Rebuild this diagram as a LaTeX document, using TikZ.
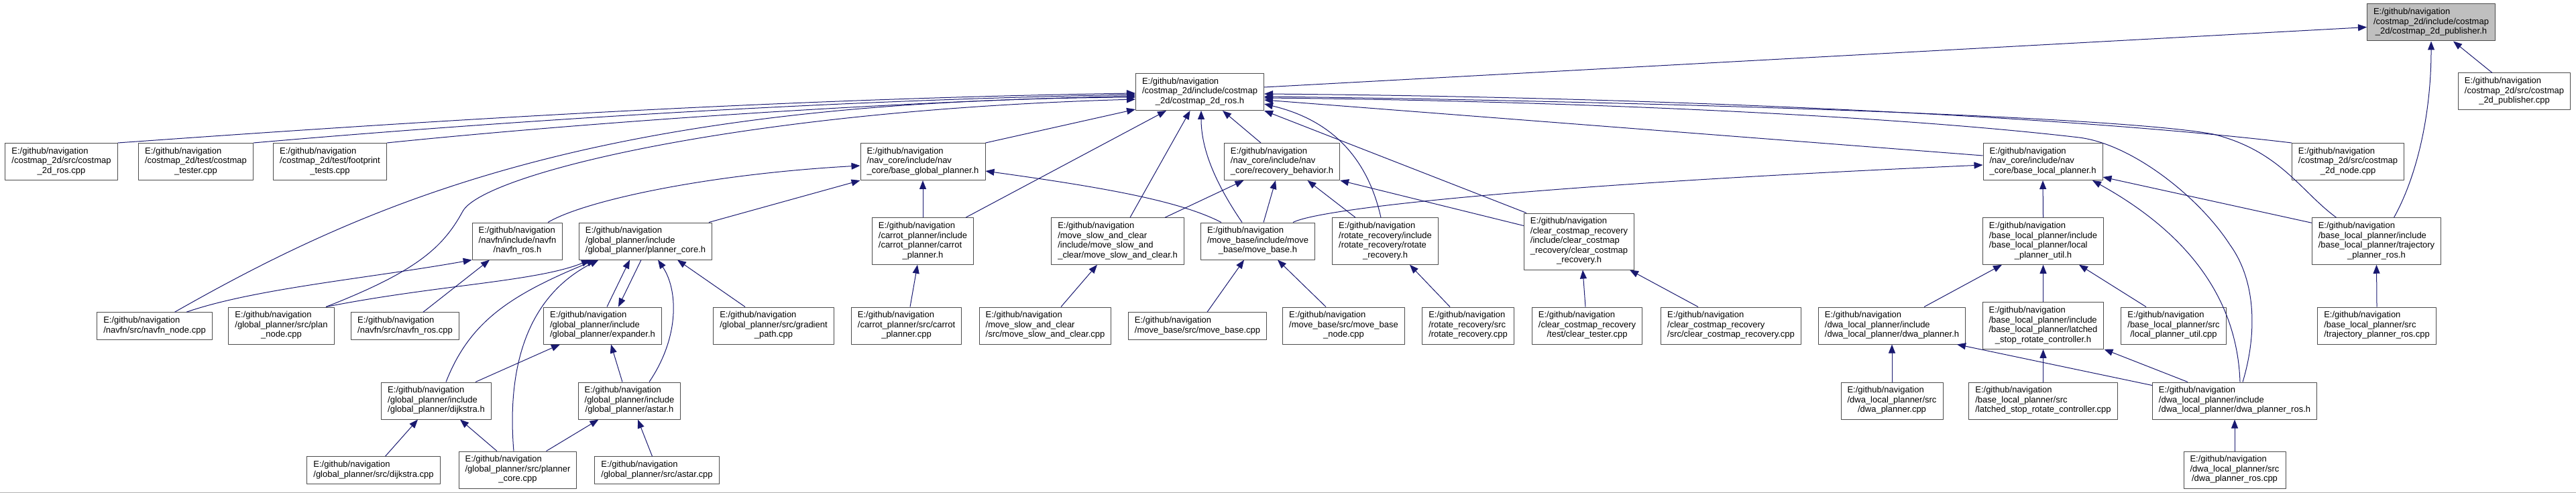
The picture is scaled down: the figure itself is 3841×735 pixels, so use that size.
\documentclass[tikz,border=0pt]{standalone}
\usepackage{fontspec}
\setmainfont{Liberation Sans}
\usetikzlibrary{arrows.meta}
\definecolor{edgeblue}{HTML}{191970}
\definecolor{maingray}{HTML}{BFBFBF}
% file label: all lines left, last line centred
\newcommand{\flab}[2]{\begin{tabular}{@{}l@{}}#1\\\multicolumn{1}{@{}c@{}}{#2}\end{tabular}}

\begin{document}
\begin{tikzpicture}[x=1pt, y=-1pt, line join=round,
  file/.style={draw=black!70, line width=1pt, fill=white, inner xsep=9.5pt, inner ysep=5.75pt, font=\fontsize{13}{14.5}\selectfont},
  incl/.style={draw=edgeblue, line width=1pt, -{Triangle[length=13pt, width=10pt]}}]
	\useasboundingbox (0,0) rectangle (3841,735);

	% Top files
	\node[file, fill=maingray] (pub) at (3625,33.5) {\flab{E:/github/navigation\\/costmap\_2d/include/costmap}{\_2d/costmap\_2d\_publisher.h}};
	\node[file] (pubsrc) at (3749,136.5) {\flab{E:/github/navigation\\/costmap\_2d/src/costmap}{\_2d\_publisher.cpp}};
	\node[file] (ros) at (1789,137) {\flab{E:/github/navigation\\/costmap\_2d/include/costmap}{\_2d/costmap\_2d\_ros.h}};

	% Row 2
	\node[file] (rossrc) at (91.5,241) {\flab{E:/github/navigation\\/costmap\_2d/src/costmap}{\_2d\_ros.cpp}};
	\node[file] (tester) at (292,241) {\flab{E:/github/navigation\\/costmap\_2d/test/costmap}{\_tester.cpp}};
	\node[file] (footprint) at (492,241) {\flab{E:/github/navigation\\/costmap\_2d/test/footprint}{\_tests.cpp}};
	\node[file] (bgp) at (1376,241) {\flab{E:/github/navigation\\/nav\_core/include/nav}{\_core/base\_global\_planner.h}};
	\node[file] (rb) at (1911.5,241) {\flab{E:/github/navigation\\/nav\_core/include/nav}{\_core/recovery\_behavior.h}};
	\node[file] (blp) at (3046,241) {\flab{E:/github/navigation\\/nav\_core/include/nav}{\_core/base\_local\_planner.h}};
	\node[file] (cmnode) at (3501,241) {\flab{E:/github/navigation\\/costmap\_2d/src/costmap}{\_2d\_node.cpp}};

	% Row 3
	\node[file] (navfnh) at (771.5,359.5) {\flab{E:/github/navigation\\/navfn/include/navfn}{/navfn\_ros.h}};
	\node[file] (pcore) at (962.5,359.5) {\flab{E:/github/navigation\\/global\_planner/include}{/global\_planner/planner\_core.h}};
	\node[file] (carroth) at (1376,359.5) {\flab{E:/github/navigation\\/carrot\_planner/include\\/carrot\_planner/carrot}{\_planner.h}};
	\node[file] (msch) at (1666.5,359.5) {\flab{E:/github/navigation\\/move\_slow\_and\_clear\\/include/move\_slow\_and}{\_clear/move\_slow\_and\_clear.h}};
	\node[file] (mbh) at (1875.5,359.5) {\flab{E:/github/navigation\\/move\_base/include/move}{\_base/move\_base.h}};
	\node[file] (roth) at (2065.5,359.5) {\flab{E:/github/navigation\\/rotate\_recovery/include\\/rotate\_recovery/rotate}{\_recovery.h}};
	\node[file] (ccrh) at (2354.5,360) {\flab{E:/github/navigation\\/clear\_costmap\_recovery\\/include/clear\_costmap\\\_recovery/clear\_costmap}{\_recovery.h}};
	\node[file] (lpu) at (3046.5,359.5) {\flab{E:/github/navigation\\/base\_local\_planner/include\\/base\_local\_planner/local}{\_planner\_util.h}};
	\node[file] (tprh) at (3543.5,359.5) {\flab{E:/github/navigation\\/base\_local\_planner/include\\/base\_local\_planner/trajectory}{\_planner\_ros.h}};

	% Row 4
	\node[file] (navfnnode) at (230.5,486) {\flab{E:/github/navigation}{/navfn/src/navfn\_node.cpp}};
	\node[file] (plannode) at (419.5,485.5) {\flab{E:/github/navigation\\/global\_planner/src/plan}{\_node.cpp}};
	\node[file] (navfnsrc) at (604,486) {\flab{E:/github/navigation}{/navfn/src/navfn\_ros.cpp}};
	\node[file] (expander) at (898.5,485.5) {\flab{E:/github/navigation\\/global\_planner/include}{/global\_planner/expander.h}};
	\node[file] (gradient) at (1153.5,485.5) {\flab{E:/github/navigation\\/global\_planner/src/gradient}{\_path.cpp}};
	\node[file] (carrotsrc) at (1351.5,485.5) {\flab{E:/github/navigation\\/carrot\_planner/src/carrot}{\_planner.cpp}};
	\node[file] (mscsrc) at (1558.5,485.5) {\flab{E:/github/navigation\\/move\_slow\_and\_clear}{/src/move\_slow\_and\_clear.cpp}};
	\node[file] (mbsrc) at (1785.5,486) {\flab{E:/github/navigation}{/move\_base/src/move\_base.cpp}};
	\node[file] (mbnode) at (2003.5,485.5) {\flab{E:/github/navigation\\/move\_base/src/move\_base}{\_node.cpp}};
	\node[file] (rotsrc) at (2189,485.5) {\flab{E:/github/navigation\\/rotate\_recovery/src}{/rotate\_recovery.cpp}};
	\node[file] (cleartest) at (2366.5,485.5) {\flab{E:/github/navigation\\/clear\_costmap\_recovery}{/test/clear\_tester.cpp}};
	\node[file] (ccrsrc) at (2581,485.5) {\flab{E:/github/navigation\\/clear\_costmap\_recovery}{/src/clear\_costmap\_recovery.cpp}};
	\node[file] (dwah) at (2821,485.5) {\flab{E:/github/navigation\\/dwa\_local\_planner/include}{/dwa\_local\_planner/dwa\_planner.h}};
	\node[file] (lsrc) at (3046.5,485.5) {\flab{E:/github/navigation\\/base\_local\_planner/include\\/base\_local\_planner/latched}{\_stop\_rotate\_controller.h}};
	\node[file] (lpusrc) at (3241,485.5) {\flab{E:/github/navigation\\/base\_local\_planner/src}{/local\_planner\_util.cpp}};
	\node[file] (tprsrc) at (3544,485.5) {\flab{E:/github/navigation\\/base\_local\_planner/src}{/trajectory\_planner\_ros.cpp}};

	% Row 5
	\node[file] (dijkh) at (650.5,597.5) {\flab{E:/github/navigation\\/global\_planner/include}{/global\_planner/dijkstra.h}};
	\node[file] (astarh) at (938.5,597.5) {\flab{E:/github/navigation\\/global\_planner/include}{/global\_planner/astar.h}};
	\node[file] (dwasrc) at (2821,597.5) {\flab{E:/github/navigation\\/dwa\_local\_planner/src}{/dwa\_planner.cpp}};
	\node[file] (lsrcsrc) at (3046.5,597.5) {\flab{E:/github/navigation\\/base\_local\_planner/src}{/latched\_stop\_rotate\_controller.cpp}};
	\node[file] (dwarosh) at (3332,597.5) {\flab{E:/github/navigation\\/dwa\_local\_planner/include}{/dwa\_local\_planner/dwa\_planner\_ros.h}};

	% Row 6
	\node[file] (dijksrc) at (557,701) {\flab{E:/github/navigation}{/global\_planner/src/dijkstra.cpp}};
	\node[file] (pcoresrc) at (772,700.5) {\flab{E:/github/navigation\\/global\_planner/src/planner}{\_core.cpp}};
	\node[file] (astarsrc) at (979.5,701) {\flab{E:/github/navigation}{/global\_planner/src/astar.cpp}};
	\node[file] (dwarossrc) at (3332,700.5) {\flab{E:/github/navigation\\/dwa\_local\_planner/src}{/dwa\_planner\_ros.cpp}};

	% Bottom rule
	\draw[black!30, line width=1pt] (0,734) -- (3841,734);

	% Into costmap_2d_publisher.h
	\draw[incl] ([yshift=7pt]ros.east) -- ([yshift=-7pt]pub.west);
	\draw[incl] ([xshift=-33pt]pubsrc.north) -- ([xshift=33pt]pub.south);
	\draw[incl] ([xshift=26pt]tprh.north) .. controls (3600,270) and (3625,180) .. (pub.south);

	% Into costmap_2d_ros.h
	\draw[incl] (rossrc.north east) .. controls (500,190) and (1100,148) .. ([yshift=-2pt]ros.west);
	\draw[incl] (tester.north east) .. controls (700,185) and (1200,150) .. ([yshift=-4pt]ros.west);
	\draw[incl] (footprint.north east) .. controls (850,185) and (1300,152) .. ([yshift=-6pt]ros.west);
	\draw[incl] ([xshift=30pt]navfnnode.north) .. controls (560,295) and (900,150) .. ([yshift=-8pt]ros.west);
	\draw[incl] ([xshift=66.5pt]plannode.north) .. controls (620,405) and (660,370) .. (690,315) .. controls (720,260) and (1100,165) .. ([yshift=-11pt]ros.west);
	\draw[incl] (bgp.north east) -- ([yshift=2pt]ros.south west);
	\draw[incl] ([xshift=64pt]carroth.north) -- ([xshift=-50pt]ros.south);
	\draw[incl] ([xshift=18.5pt]msch.north) -- ([xshift=-14.5pt]ros.south);
	\draw[incl] ([xshift=-23.5pt]mbh.north) .. controls (1810,270) and (1791,220) .. ([xshift=2pt]ros.south);
	\draw[incl] ([xshift=-31.5pt]rb.north) -- ([xshift=34pt]ros.south);
	\draw[incl] (cmnode.north west) .. controls (3100,175) and (2500,145) .. ([yshift=-3pt]ros.east);
	\draw[incl] ([xshift=-60pt]tprh.north) .. controls (3430,285) and (3400,225) .. (3300,200) .. controls (3150,172) and (2400,150) .. ([yshift=-7pt]ros.east);
	\draw[incl] ([xshift=12pt]dwarosh.north) .. controls (3365,500) and (3365,420) .. (3325,365) .. controls (3280,295) and (3180,215) .. (3100,205) .. controls (2800,170) and (2300,150) .. ([yshift=-9pt]ros.east);
	\draw[incl] ([yshift=9pt]blp.west) -- ([yshift=-12pt]ros.east);
	\draw[incl] ([xshift=-6.5pt]roth.north) .. controls (2040,240) and (1990,180) .. ([yshift=-18pt]ros.east);
	\draw[incl] ([xshift=-78.5pt]ccrh.north) -- (ros.south east);

	% Into base_local_planner.h
	\draw[incl] (lpu.north) -- (blp.south);
	\draw[incl] ([yshift=-8pt]tprh.north west) -- ([yshift=5pt]blp.south east);
	\draw[incl] ([xshift=8pt]dwarosh.north) .. controls (3335,420) and (3230,330) .. ([xshift=74pt]blp.south);
	\draw[incl] ([xshift=52.5pt]mbh.north) .. controls (1970,310) and (2300,275) .. ([yshift=-5pt]blp.west);

	% Into recovery_behavior.h
	\draw[incl] ([yshift=-19pt]ccrh.north west) -- (rb.south east);
	\draw[incl] ([xshift=-44.5pt]roth.north) -- ([xshift=38pt]rb.south);
	\draw[incl] ([xshift=8.5pt]mbh.north) -- ([xshift=-9.5pt]rb.south);
	\draw[incl] ([xshift=70.5pt]msch.north) -- ([xshift=-57pt]rb.south);

	% Into base_global_planner.h
	\draw[incl] ([xshift=-54.5pt]mbh.north) .. controls (1760,300) and (1650,280) .. ([yshift=-14pt]bgp.east);
	\draw[incl] (carroth.north) -- (bgp.south);
	\draw[incl] ([xshift=45.5pt]navfnh.north) .. controls (870,300) and (1050,260) .. ([yshift=-6pt]bgp.west);
	\draw[incl] ([xshift=94.5pt]pcore.north) -- (bgp.south west);

	% Into navfn_ros.h
	\draw[incl] ([xshift=47.5pt]navfnnode.north) .. controls (380,430) and (550,415) .. (navfnh.south west);
	\draw[incl] ([xshift=27pt]navfnsrc.north) -- ([xshift=-41.5pt]navfnh.south);

	% Into planner_core.h
	\draw[incl] ([xshift=66.5pt]plannode.north) .. controls (650,425) and (800,420) .. ([xshift=-82.5pt]pcore.south);
	\draw[incl] ([xshift=14.5pt]dijkh.north) .. controls (700,480) and (760,440) .. ([xshift=-74.5pt]pcore.south);
	\draw[incl] ([xshift=-6pt]pcoresrc.north) .. controls (755,540) and (790,440) .. ([xshift=-70pt]pcore.south);
	\draw[incl] ([xshift=6.5pt]expander.north) -- ([xshift=-23.5pt]pcore.south);
	\draw[incl] ([xshift=-6.5pt]pcore.south) -- ([xshift=23.5pt]expander.north);
	\draw[incl] ([xshift=29.5pt]astarh.north) .. controls (1015,500) and (1010,430) .. ([xshift=18.5pt]pcore.south);
	\draw[incl] ([xshift=-42.5pt]gradient.north) -- ([xshift=47.5pt]pcore.south);

	% Into expander.h, dijkstra.h, astar.h
	\draw[incl] ([xshift=58.5pt]dijkh.north) -- ([xshift=-63.5pt]expander.south);
	\draw[incl] ([xshift=-10.5pt]astarh.north) -- ([xshift=12.5pt]expander.south);
	\draw[incl] ([xshift=17.5pt]dijksrc.north) -- ([xshift=-27.5pt]dijkh.south);
	\draw[incl] ([xshift=-31pt]pcoresrc.north) -- ([xshift=35.5pt]dijkh.south);
	\draw[incl] ([xshift=42.5pt]pcoresrc.north) -- ([xshift=-46pt]astarh.south);
	\draw[incl] ([xshift=-7pt]astarsrc.north) -- ([xshift=12.5pt]astarh.south);

	% Sources of the other headers
	\draw[incl] ([xshift=5.5pt]carrotsrc.north) -- ([xshift=-8pt]carroth.south);
	\draw[incl] ([xshift=23.5pt]mscsrc.north) -- ([xshift=-30.5pt]msch.south);
	\draw[incl] ([xshift=14.5pt]mbsrc.north) -- ([xshift=-20.5pt]mbh.south);
	\draw[incl] ([xshift=-26.5pt]mbnode.north) -- ([xshift=29.5pt]mbh.south);
	\draw[incl] ([xshift=-27pt]rotsrc.north) -- ([xshift=36.5pt]roth.south);
	\draw[incl] ([xshift=-2.5pt]cleartest.north) -- ([xshift=5.5pt]ccrh.south);
	\draw[incl] ([xshift=-49pt]ccrsrc.north) -- ([xshift=75.5pt]ccrh.south);
	\draw[incl] ([xshift=48pt]dwah.north) -- ([xshift=-61.5pt]lpu.south);
	\draw[incl] (lsrc.north) -- (lpu.south);
	\draw[incl] ([xshift=-41pt]lpusrc.north) -- ([xshift=53.5pt]lpu.south);
	\draw[incl] (dwasrc.north) -- (dwah.south);
	\draw[incl] (lsrcsrc.north) -- (lsrc.south);
	\draw[incl] ([yshift=-5pt]dwarosh.north west) -- ([xshift=97pt]dwah.south);
	\draw[incl] ([xshift=-70pt]dwarosh.north) -- (lsrc.south east);
	\draw[incl] (dwarossrc.north) -- (dwarosh.south);
	\draw[incl] (tprsrc.north) -- (tprh.south);
\end{tikzpicture}
\end{document}
